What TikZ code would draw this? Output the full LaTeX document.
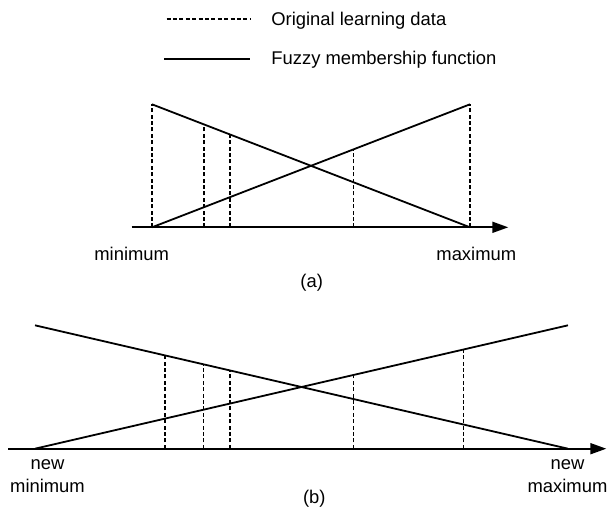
\documentclass[tikz,border=0pt]{standalone}
\usepackage{fontspec}
\setmainfont{Liberation Sans}
\usetikzlibrary{calc,arrows.meta}

\begin{document}
\begin{tikzpicture}[
        x=0.5pt,
        y=-0.5pt,
        member/.style={
            line width=0.9pt
        },
        data/.style={
            line width=0.7pt,
            dash pattern=on 2pt off 1.2pt
        },
        axis/.style={
            -{Triangle[length=8pt,width=5.5pt]},
            line width=0.9pt
        },
        lbl/.style={
            font=\fontsize{9.2}{11.7}\selectfont,
            inner sep=0pt,
            anchor=base,
            align=center
        }
    ]

        \useasboundingbox (0,0) rectangle (607,511);

        % legend
        \coordinate (dataL) at (166.7,19);
        \coordinate (dataR) at (250,19);
        \coordinate (fuzzL) at (164.3,59.3);
        \coordinate (fuzzR) at (250,59.3);
        \node[lbl, anchor=base west] (datatxt) at (271,25) {Original learning data};
        \node[lbl, anchor=base west] (fuzztxt) at (271,64.3) {Fuzzy membership function};
        \draw[data] (dataL) -- (dataR);
        \draw[member] (fuzzL) -- (fuzzR);

        % (a) original range
        \coordinate (aStart) at (131.7,227.3);
        \coordinate (aEnd) at (508.3,227.3);
        \coordinate (aMinLo) at (152,227.3);
        \coordinate (aMinHi) at (152,104.3);
        \coordinate (aMaxLo) at (470,227.3);
        \coordinate (aMaxHi) at (470,104.3);
        \draw[axis] (aStart) -- (aEnd);
        \draw[member] (aMinHi) -- (aMaxLo);
        \draw[member] (aMinLo) -- (aMaxHi);

        \coordinate (a1) at ($(aMinHi)!0.1635!(aMaxLo)$);
        \coordinate (a2) at ($(aMinHi)!0.2453!(aMaxLo)$);
        \coordinate (a3) at ($(aMinLo)!0.6330!(aMaxHi)$);
        \draw[data] (aMinLo) -- (aMinHi);
        \draw[data] (a1 |- aStart) -- (a1);
        \draw[data] (a2 |- aStart) -- (a2);
        \draw[data] (a3 |- aStart) -- (a3);
        \draw[data] (aMaxLo) -- (aMaxHi);

        \node[lbl] (amin) at (131.7,260) {minimum};
        \node[lbl] (amax) at (476.3,260) {maximum};
        \node[lbl] (acap) at (311.7,287.7) {(a)};

        % (b) widened range
        \coordinate (bStart) at (8.3,448.7);
        \coordinate (bEnd) at (606.3,448.7);
        \coordinate (bMinLo) at (35,448.7);
        \coordinate (bMinHi) at (35,325.3);
        \coordinate (bMaxLo) at (568,448.7);
        \coordinate (bMaxHi) at (568,325.3);
        \draw[axis] (bStart) -- (bEnd);
        \draw[member] (bMinHi) -- (bMaxLo);
        \draw[member] (bMinLo) -- (bMaxHi);

        \coordinate (b1) at ($(bMinHi)!0.2439!(bMaxLo)$);
        \coordinate (b2) at ($(bMinHi)!0.3158!(bMaxLo)$);
        \coordinate (b3) at ($(bMinHi)!0.3659!(bMaxLo)$);
        \coordinate (b4) at ($(bMinLo)!0.5972!(bMaxHi)$);
        \coordinate (b5) at ($(bMinLo)!0.8043!(bMaxHi)$);
        \draw[data] (b1 |- bStart) -- (b1);
        \draw[data] (b2 |- bStart) -- (b2);
        \draw[data] (b3 |- bStart) -- (b3);
        \draw[data] (b4 |- bStart) -- (b4);
        \draw[data] (b5 |- bStart) -- (b5);

        % base anchor sits on the last line
        \node[lbl] (bmin) at (47.5,492.7) {new\\minimum};
        \node[lbl] (bmax) at (567.5,492.7) {new\\maximum};
        \node[lbl] (bcap) at (314.3,503.7) {(b)};

    \end{tikzpicture}
\end{document}
